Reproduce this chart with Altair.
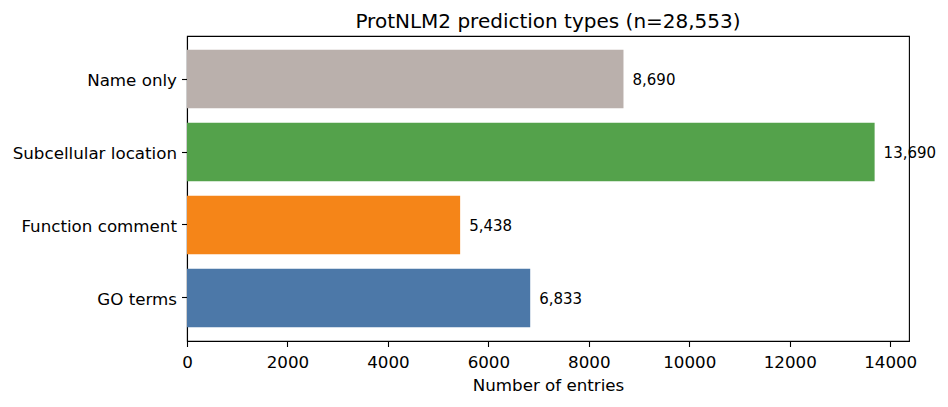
import altair as alt
import pandas as pd

categories = ["GO terms", "Function comment", "Subcellular location", "Name only"]
counts = [6833, 5438, 13690, 8690]
colors = ["#4c78a8", "#f58518", "#54a24b", "#bab0ac"]
order_top_to_bottom = ["Name only", "Subcellular location", "Function comment", "GO terms"]
x_ticks = [0, 2000, 4000, 6000, 8000, 10000, 12000, 14000]
x_max = 14374.5

df = pd.DataFrame({"category": categories, "count": counts})

FONT = "DejaVu Sans"

base = alt.Chart(df).encode(
    y=alt.Y(
        "category:N",
        sort=order_top_to_bottom,
        scale=alt.Scale(paddingInner=0.2, paddingOuter=0.19),
        axis=alt.Axis(
            title=None, labelFontSize=16.7, labelColor="black", labelFont=FONT,
            tickSize=5.5, tickColor="black", domainColor="black", labelPadding=5,
            tickWidth=1.1, domainWidth=1.1, labelOffset=2,
        ),
    ),
)

bars = base.mark_bar().encode(
    x=alt.X(
        "count:Q",
        scale=alt.Scale(domain=[0, x_max], nice=False),
        axis=alt.Axis(
            values=x_ticks, format="d", title="Number of entries", titleFontSize=16.7,
            titleFont=FONT, titleFontWeight="normal", titleColor="black", titlePadding=6,
            labelFontSize=16.7, labelFont=FONT, labelColor="black", tickSize=5.5,
            tickColor="black", domainColor="black", grid=False, labelPadding=8,
            tickWidth=1.1, domainWidth=1.1, labelFlush=False,
        ),
    ),
    color=alt.Color("category:N", scale=alt.Scale(domain=categories, range=colors), legend=None),
)

labels = base.mark_text(align="left", baseline="middle", dx=9, dy=1, fontSize=15, font=FONT, color="black").encode(
    x="count:Q",
    text=alt.Text("count:Q", format=","),
)

chart = (bars + labels).properties(
    width=722,
    height=305,
    title=alt.TitleParams(
        "ProtNLM2 prediction types (n=28,553)", fontSize=20, font=FONT,
        fontWeight="normal", color="black", offset=4, anchor="middle",
    ),
    autosize=alt.AutoSizeParams(type="none"),
    padding={"left": 187, "top": 36, "right": 39, "bottom": 66},
).configure_view(stroke="black", strokeWidth=1.1).configure_axis(grid=False)

chart.save("out.html", embed_options={"renderer": "svg", "actions": False})
